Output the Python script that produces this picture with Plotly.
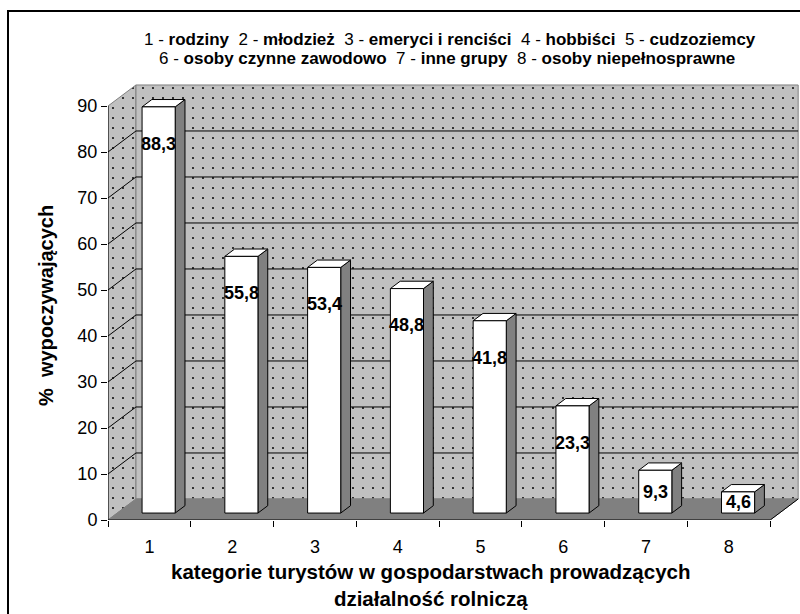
import plotly.graph_objects as go

categories = ["1", "2", "3", "4", "5", "6", "7", "8"]
values = [88.3, 55.8, 53.4, 48.8, 41.8, 23.3, 9.3, 4.6]
value_labels = ["88,3", "55,8", "53,4", "48,8", "41,8", "23,3", "9,3", "4,6"]
y_ticks = [0, 10, 20, 30, 40, 50, 60, 70, 80, 90]
group_names = ["rodziny", "młodzież", "emeryci i renciści", "hobbiści", "cudzoziemcy",
               "osoby czynne zawodowo", "inne grupy", "osoby niepełnosprawne"]
x_title = "kategorie turystów w gospodarstwach prowadzących<br>działalność rolniczą"
y_title = "%  wypoczywających"

FONT = "Arial, 'Liberation Sans', sans-serif"
DX, DY = 0.338, 4.57      # depth offset (category units, value units)
BAR_W = 0.4
D0, D1 = 0.33, 0.68       # bar depth position (fraction of floor depth)
n = len(values)
YMAX = max(y_ticks)
X_MAX = n + 0.36
Y_MAX = 95

L, T, B = 108, 83, 94
W, H = 800, 614
PW, PH = W - L, H - T - B

dots = dict(shape=".", bgcolor="#c0c0c0", fgcolor="#000000", size=10, solidity=0.03, fillmode="replace")

fig = go.Figure()


def poly(xs, ys, fill, line_color, lw=1, pattern=None):
    xs = list(xs) + [xs[0]]
    ys = list(ys) + [ys[0]]
    kw = dict(x=xs, y=ys, mode="lines", fill="toself", fillcolor=fill,
              line=dict(color=line_color, width=lw), hoverinfo="skip", showlegend=False)
    if pattern:
        kw["fillpattern"] = pattern
    fig.add_trace(go.Scatter(**kw))


# side wall
poly([0, DX, DX, 0], [0, DY, YMAX + DY, YMAX], "#c0c0c0", "#808080", 1, dots)
# back wall
poly([DX, n + DX, n + DX, DX], [DY, DY, YMAX + DY, YMAX + DY], "#c0c0c0", "#808080", 1, dots)

# gridlines
gx, gy = [], []
for v in y_ticks[1:-1]:
    gx += [0, DX, n + DX, None]
    gy += [v, v + DY, v + DY, None]
fig.add_trace(go.Scatter(x=gx, y=gy, mode="lines", line=dict(color="#000000", width=1),
                         hoverinfo="skip", showlegend=False))

# floor
poly([0, n, n + DX, DX], [0, 0, DY, DY], "#808080", "#808080", 1)

# bars
ddx, ddy = (D1 - D0) * DX, (D1 - D0) * DY
for i, v in enumerate(values):
    c = i + 0.5
    xl = c - BAR_W / 2 + D0 * DX
    xr = xl + BAR_W
    yb = D0 * DY
    yt = v + yb
    poly([xr, xr + ddx, xr + ddx, xr], [yb, yb + ddy, yt + ddy, yt], "#808080", "#000000", 1)
    poly([xl, xr, xr + ddx, xl + ddx], [yt, yt, yt + ddy, yt + ddy], "#ffffff", "#000000", 1)
    poly([xl, xr, xr, xl], [yb, yb, yt, yt], "#ffffff", "#000000", 1)
    fig.add_annotation(x=(xl + xr) / 2, y=max(yt - 8, yb + v / 2), text="<b>%s</b>" % value_labels[i],
                       showarrow=False, xanchor="center", yanchor="middle",
                       font=dict(family=FONT, size=18, color="#000000"))

# axis lines
fig.add_trace(go.Scatter(x=[0, 0, None, 0, n, n + DX], y=[YMAX, 0, None, 0, 0, DY], mode="lines",
                         line=dict(color="#000000", width=1), hoverinfo="skip", showlegend=False))

line1 = "  ".join("%s - <b>%s</b>" % (categories[i], group_names[i]) for i in range(5))
line2 = "  ".join("%s - <b>%s</b>" % (categories[i], group_names[i]) for i in range(5, 8))


def px_x(p):
    return (p - L) / PW


def px_y(p):
    return (T + PH - p) / PH


def text_at(x, y, text, size, angle=0):
    fig.add_annotation(xref="paper", yref="paper", x=px_x(x), y=px_y(y), text=text, showarrow=False,
                       xanchor="center", yanchor="middle", textangle=angle,
                       font=dict(family=FONT, size=size, color="#000000"))


text_at(450, 39, line1, 17)
text_at(447, 59, line2, 17)
text_at(430, 585, "<b>%s</b>" % x_title, 20.5)
text_at(46, 306, "<b>%s</b>" % y_title, 20, -90)

# outer frame
fig.add_shape(type="rect", xref="paper", yref="paper", x0=px_x(8), y0=px_y(640), x1=px_x(830), y1=px_y(11),
              line=dict(color="#000000", width=2), fillcolor="rgba(0,0,0,0)", layer="above")

fig.update_layout(
    width=W, height=H,
    margin=dict(l=L, r=0, t=T, b=B, pad=0),
    paper_bgcolor="#ffffff", plot_bgcolor="#ffffff",
    showlegend=False,
    font=dict(family=FONT, color="#000000"),
    xaxis=dict(range=[0, X_MAX], tickmode="array", tickvals=[i + 0.5 for i in range(n)], ticktext=categories,
               ticks="", showgrid=False, zeroline=False, showline=False, fixedrange=True,
               tickfont=dict(family=FONT, size=18, color="#000000"), ticklabelstandoff=14,
               minor=dict(tickmode="array", tickvals=list(range(n + 1)), ticks="outside", ticklen=6,
                          tickcolor="#000000", tickwidth=1, showgrid=False)),
    yaxis=dict(range=[0, Y_MAX], tickmode="array", tickvals=y_ticks, ticks="outside", ticklen=6,
               tickcolor="#000000", showgrid=False, zeroline=False, showline=False, fixedrange=True,
               tickfont=dict(family=FONT, size=18, color="#000000")),
)

fig.write_html("out.html", config={"displayModeBar": False},
               post_script="document.body.style.margin='0';document.body.style.overflow='hidden';")
